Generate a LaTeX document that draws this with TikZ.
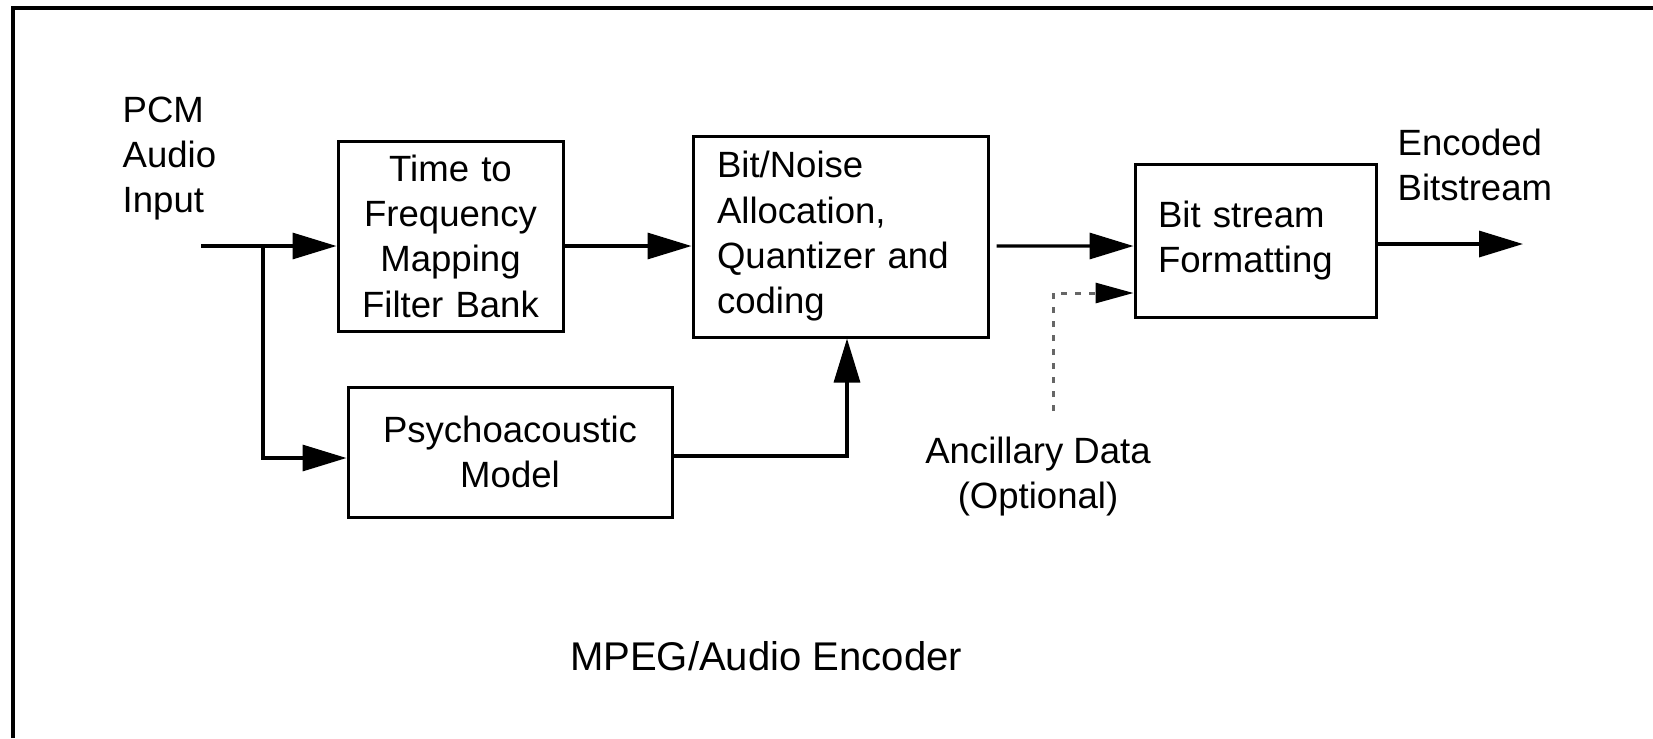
\documentclass[tikz,border=0pt]{standalone}
\usepackage{fontspec}
\setmainfont{Liberation Sans}
\usetikzlibrary{positioning,arrows.meta}
\tikzset{
  blk/.style={draw, line width=0.3mm, inner ysep=0pt,
              font=\fontsize{10.4}{12.9}\selectfont},
  flow/.style={line width=0.33mm, -{Triangle[length=4.4mm, width=2.6mm]}},
  ancil/.style={draw=black!60, line width=0.3mm, dash pattern=on 0.6mm off 0.8mm,
                -{Triangle[length=3.8mm, width=2mm, color=black]}},
  lbl/.style={inner sep=0pt, font=\fontsize{10.4}{12.9}\selectfont},
}

\begin{document}
\begin{tikzpicture}[x=0.1mm, y=-0.1mm]
  \useasboundingbox (0,0) rectangle (1653,738);
  \draw[line width=0.33mm] (13,738) -- (13,8) -- (1653,8);

  % processing blocks
  \node[blk, align=center, text width=20.5mm, inner xsep=1mm, minimum height=19mm]
    (tf) at (450.5,236) {Time to\\Frequency\\Mapping\\Filter Bank};
  \node[blk, align=left, text width=24.7mm, inner xsep=2.4mm, minimum height=20.1mm]
    (bn) at (840.5,236.5) {Bit/Noise\\Allocation,\\Quantizer and\\coding};
  \node[blk, align=center, text width=30.4mm, inner xsep=1mm, minimum height=13mm]
    (pm) at (510,452) {Psychoacoustic\\Model};
  \node[blk, align=left, text width=19.5mm, inner xsep=2.3mm, minimum height=15.3mm]
    (bf) at (1255.5,240.5) {Bit stream\\Formatting};

  % labels
  \node[lbl, anchor=north west, align=left] (pcmlbl) at (122,96) {PCM\\Audio\\Input};
  \node[lbl, anchor=north west, align=left] (enclbl) at (1397,128) {Encoded\\Bitstream};
  \node[lbl, anchor=north, align=center] (anclbl) at (1038,436) {Ancillary Data\\(Optional)};
  \node[lbl, font=\fontsize{11.4}{13}\selectfont] (title) at (766,656) {MPEG/Audio Encoder};

  % signal flow
  \coordinate (pcm) at (201,246);
  \coordinate (split) at (263,246);
  \coordinate (enc) at (1523,244);
  \coordinate (anc) at (1053,411);
  \draw[flow] (pcm) -- (pcm -| tf.west);
  \draw[flow] (split) |- ([yshift=-0.6mm]pm.west);
  \draw[flow] (tf.east |- pcm) -- (bn.west |- pcm);
  \draw[flow] ([yshift=-0.4mm]pm.east) -| ([xshift=0.65mm]bn.south);
  \draw[flow] ([shift={(0.7mm,-0.95mm)}]bn.east) -- (bf.west |- pcm);
  \draw[flow] (bf.east |- enc) -- (enc);
  \draw[ancil] (anc) |- ([yshift=-5.25mm]bf.west);
\end{tikzpicture}
\end{document}
